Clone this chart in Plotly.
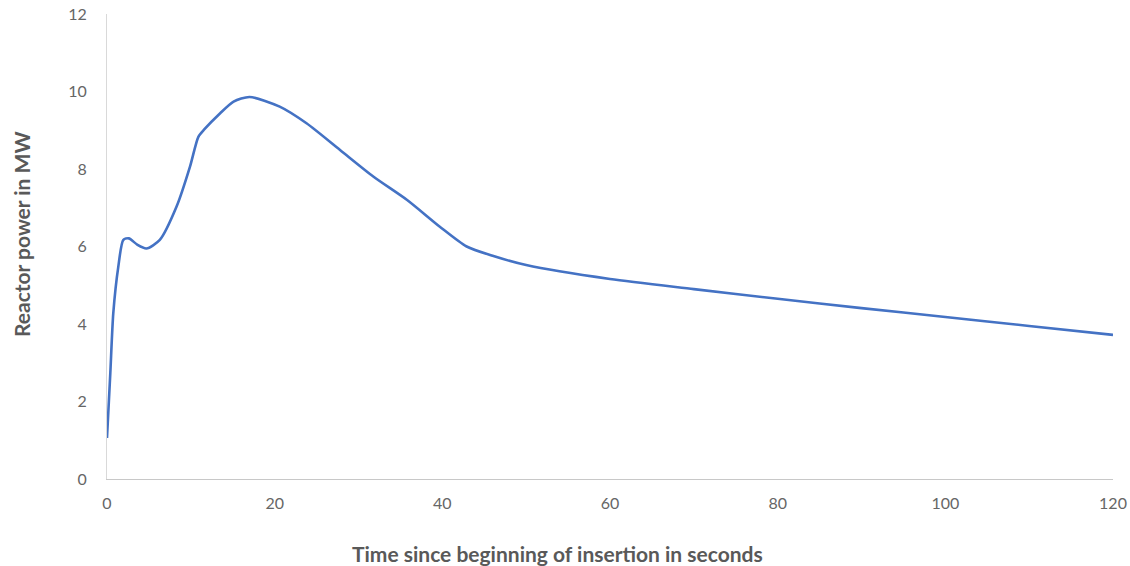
import plotly.graph_objects as go

time_s = [0, 0.4, 0.75, 1.35, 1.95, 2.6, 3.6, 4.7, 6.3, 8.3, 9.9, 10.9, 11.6, 13.5, 15.1,
          17, 20.6, 23.8, 27.8, 31.8, 35.8, 39.7, 42.9, 46, 50, 60, 70, 80, 90, 100, 110, 120]
power_mw = [1.06, 2.75, 4.28, 5.48, 6.17, 6.21, 6.05, 5.95, 6.17, 7.03, 8.06, 8.83, 9.02,
            9.44, 9.74, 9.86, 9.61, 9.18, 8.49, 7.8, 7.2, 6.51, 6.0, 5.76, 5.52, 5.16, 4.9,
            4.65, 4.41, 4.18, 3.95, 3.72]

x_ticks = [0, 20, 40, 60, 80, 100, 120]
y_ticks = [0, 2, 4, 6, 8, 10, 12]

x_title = "Time since beginning of insertion in seconds"
y_title = "Reactor power in MW"

W, H = 1130, 566
PL, PR, PT, PB = 107, 1113, 14, 479

fig = go.Figure()
fig.add_trace(go.Scatter(
    x=time_s, y=power_mw, mode="lines",
    line=dict(color="#4472C4", width=2.6, shape="spline", smoothing=0.7),
    showlegend=False,
))

font_family = "Lato, 'Open Sans', sans-serif"
tick_font = dict(family=font_family, size=16, color="#666666")
title_font = dict(family=font_family, size=21, color="#595959")

fig.update_layout(
    width=W, height=H,
    margin=dict(l=PL, r=W - PR, t=PT, b=H - PB, pad=0),
    paper_bgcolor="white", plot_bgcolor="white",
    xaxis=dict(range=[0, 120], tickvals=x_ticks, showgrid=False, zeroline=False,
               showline=True, linecolor="#C8C8C8", linewidth=1, ticks="",
               tickfont=tick_font, ticklabelstandoff=10, automargin=False),
    yaxis=dict(range=[0, 12], tickvals=y_ticks, showgrid=False, zeroline=False,
               showline=True, linecolor="#D9D9D9", linewidth=1, ticks="",
               tickfont=tick_font, ticklabelstandoff=16, automargin=False),
    annotations=[
        dict(text="<b>%s</b>" % x_title, xref="paper", yref="paper",
             x=(557 - PL) / (PR - PL), y=(PB - 553) / (PB - PT), showarrow=False,
             xanchor="center", yanchor="middle", font=title_font),
        dict(text="<b>%s</b>" % y_title, xref="paper", yref="paper",
             x=(22 - PL) / (PR - PL), y=(PB - 235) / (PB - PT), showarrow=False,
             textangle=-90, xanchor="center", yanchor="middle", font=title_font),
    ],
)

fig.write_html("out.html", config={"displayModeBar": False},
               post_script="document.body.style.margin='0';")
